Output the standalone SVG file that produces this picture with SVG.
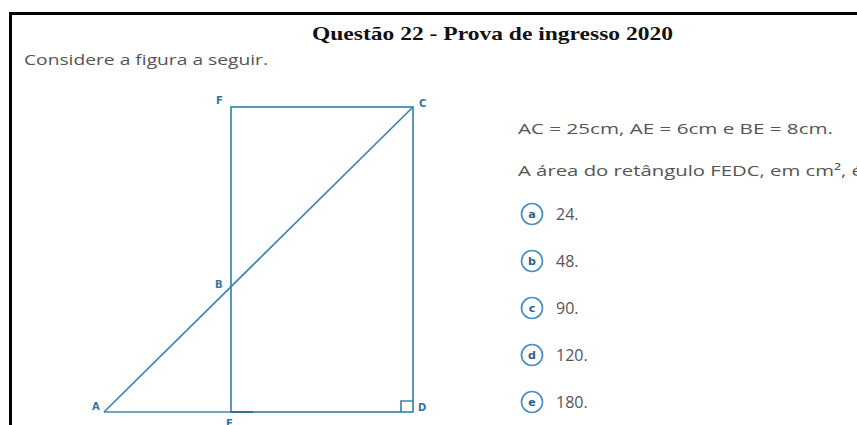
<svg xmlns="http://www.w3.org/2000/svg" width="857" height="425" viewBox="0 0 857 425">
<style>
.fig{stroke:#3b86ad;stroke-width:1.7;fill:none}
.lbl{font-family:"DejaVu Sans",sans-serif;font-weight:bold;font-size:10px;fill:#3673a0}
.txt{font-family:"Open Sans",sans-serif;font-size:14.5px;fill:#555}
.num{font-family:"Open Sans",sans-serif;font-size:16px;fill:#555}
.opt{stroke:#4a8fbf;stroke-width:1.7;fill:#fff}
.optl{font-family:"DejaVu Sans",sans-serif;font-weight:bold;font-size:11px;fill:#2c5f8a;text-anchor:middle}
</style>
<rect width="857" height="425" fill="#fff"/>
<g id="border" stroke="#000" stroke-width="3" fill="none">
<path d="M10.5 425 V13.5 H857"/>
</g>
<g id="title">
<text x="312" y="40" font-family="Liberation Serif,serif" font-weight="bold" font-size="19" fill="#111" textLength="361" lengthAdjust="spacingAndGlyphs">Questão 22 - Prova de ingresso 2020</text>
</g>
<text class="txt" x="24" y="65" textLength="244" lengthAdjust="spacingAndGlyphs">Considere a figura a seguir.</text>
<g id="figure">
<rect class="fig" x="231" y="107" width="182" height="305"/>
<line class="fig" x1="104" y1="412" x2="413" y2="107"/>
<line class="fig" x1="104" y1="412" x2="231" y2="412"/>
<line x1="231" y1="412" x2="253" y2="412" stroke="#2f6f95" stroke-width="1.9"/>
<path class="fig" d="M401 412 V401 H413"/>
<text class="lbl" x="92" y="410">A</text>
<text class="lbl" x="215" y="288">B</text>
<text class="lbl" x="419" y="107">C</text>
<text class="lbl" x="418" y="411">D</text>
<text class="lbl" x="226" y="427">E</text>
<text class="lbl" x="216" y="104">F</text>
</g>
<g id="statement">
<text class="txt" x="518" y="134" textLength="315" lengthAdjust="spacingAndGlyphs">AC = 25cm, AE = 6cm e BE = 8cm.</text>
<text class="txt" x="518" y="176" textLength="345" lengthAdjust="spacingAndGlyphs">A área do retângulo FEDC, em cm², é</text>
</g>
<g id="opt-a"><circle class="opt" cx="532" cy="214" r="10.5"/><text class="optl" x="532" y="218">a</text><text class="num" x="556" y="220">24.</text></g>
<g id="opt-b"><circle class="opt" cx="532" cy="261" r="10.5"/><text class="optl" x="532" y="265">b</text><text class="num" x="556" y="267">48.</text></g>
<g id="opt-c"><circle class="opt" cx="532" cy="308" r="10.5"/><text class="optl" x="532" y="312">c</text><text class="num" x="556" y="314">90.</text></g>
<g id="opt-d"><circle class="opt" cx="532" cy="355" r="10.5"/><text class="optl" x="532" y="359">d</text><text class="num" x="556" y="361">120.</text></g>
<g id="opt-e"><circle class="opt" cx="532" cy="402" r="10.5"/><text class="optl" x="532" y="406">e</text><text class="num" x="556" y="408">180.</text></g>
</svg>
